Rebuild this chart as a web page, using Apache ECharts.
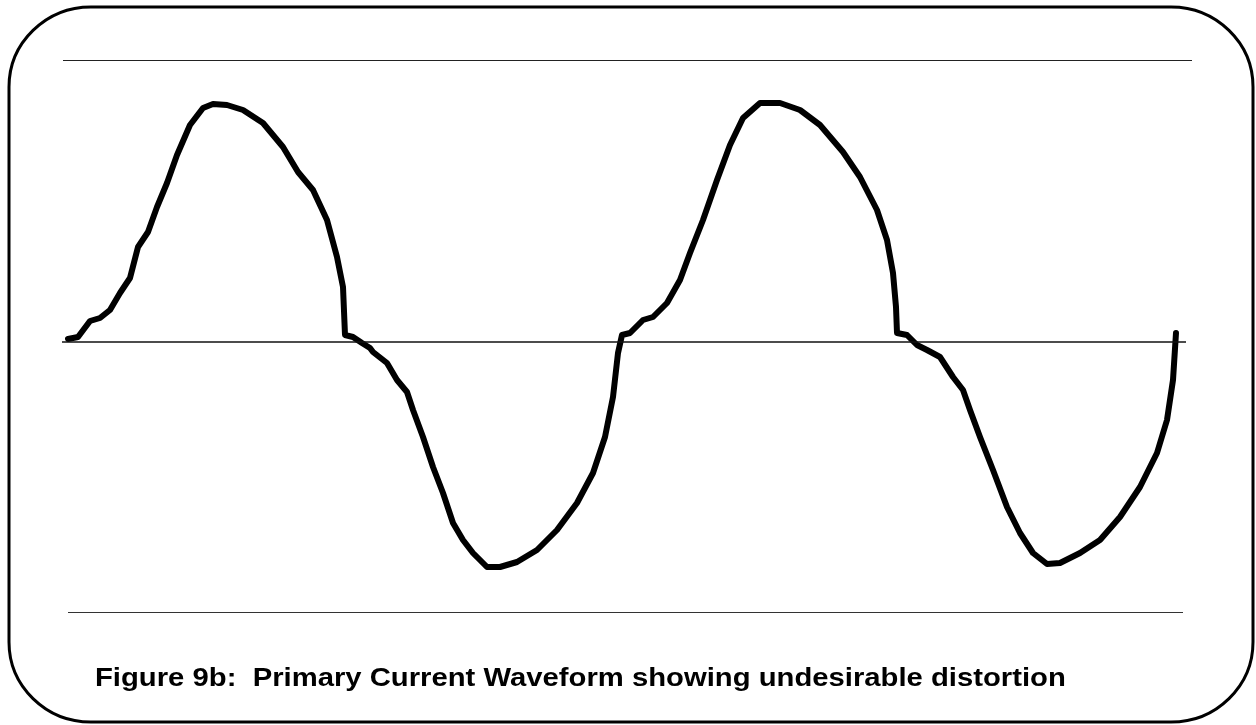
<!DOCTYPE html>
<html>
<head>
<meta charset="utf-8">
<script src="https://cdn.jsdelivr.net/npm/echarts@6/dist/echarts.min.js"></script>
<style>html,body{margin:0;padding:0;background:#fff;}#chart{width:1256px;height:725px;}</style>
</head>
<body>
<div id="chart"></div>
<script>
// Time (arbitrary units) and current (arbitrary units, 0 = zero line)
const timeValues = [
  6, 8, 16, 28, 38, 48, 58, 68, 76, 86, 95, 105, 115, 128, 141, 151, 165, 181, 201, 221, 236, 251, 265, 275, 281, 283, 291, 300, 308,
  311, 325, 335, 345, 351, 361, 371, 381, 391, 401, 411, 425, 438, 455, 475, 495, 515, 531, 543, 551, 556, 560, 568, 581,
  591, 605, 618, 628, 641, 655, 668, 681, 698, 718, 738, 758, 781, 798, 815, 825, 831, 834, 835, 845, 855, 865,
  878, 891, 901, 908, 918, 931, 945, 958, 971, 985, 998, 1018, 1038, 1058, 1078, 1095, 1105, 1111, 1114
];
const currentValues = [
  3, 4, 5, 21, 24, 32, 49, 64, 95, 110, 135, 159, 187, 217, 234, 238, 237, 232, 219, 195, 170, 152, 122, 85, 55, 7, 5, -1, -6,
  -10, -21, -38, -50, -68, -95, -125, -151, -181, -198, -211, -225, -225, -220, -208, -188, -161, -131, -95, -55, -11, 7, 9, 22,
  25, 39, 62, 89, 122, 162, 197, 224, 239, 239, 232, 217, 190, 165, 132, 102, 69, 35, 9, 7, -3, -8,
  -15, -35, -48, -68, -95, -128, -165, -191, -211, -222, -221, -211, -198, -175, -145, -111, -78, -38, 9
];
const pairs = timeValues.map((t, i) => [t, currentValues[i]]);

// reference lines: [value, start, end]
const topLine = [282, 1, 1130];
const zeroLine = [0, 0, 1124];
const bottomLine = [-270, 6, 1121];
const caption = 'Figure 9b:  Primary Current Waveform showing undesirable distortion';

const chart = echarts.init(document.getElementById('chart'));
function hline(l, w, c) {
  return [{ coord: [l[1], l[0]], lineStyle: { width: w, color: c, type: 'solid' } }, { coord: [l[2], l[0]] }];
}
// frame with rounded corners
const L = 9, R = 1253, T = 7, B = 722, rx = 82, ry = 80, k = 0.5523;
const fs = { stroke: '#000', lineWidth: 3, fill: 'none' };
const frame = [
  { type: 'line', shape: { x1: L + rx, y1: T, x2: R - rx, y2: T }, style: fs },
  { type: 'line', shape: { x1: L + rx, y1: B, x2: R - rx, y2: B }, style: fs },
  { type: 'line', shape: { x1: L, y1: T + ry, x2: L, y2: B - ry }, style: fs },
  { type: 'line', shape: { x1: R, y1: T + ry, x2: R, y2: B - ry }, style: fs },
  { type: 'bezierCurve', shape: { x1: L, y1: T + ry, cpx1: L, cpy1: T + ry - k * ry, cpx2: L + rx - k * rx, cpy2: T, x2: L + rx, y2: T }, style: fs },
  { type: 'bezierCurve', shape: { x1: R - rx, y1: T, cpx1: R - rx + k * rx, cpy1: T, cpx2: R, cpy2: T + ry - k * ry, x2: R, y2: T + ry }, style: fs },
  { type: 'bezierCurve', shape: { x1: R, y1: B - ry, cpx1: R, cpy1: B - ry + k * ry, cpx2: R - rx + k * rx, cpy2: B, x2: R - rx, y2: B }, style: fs },
  { type: 'bezierCurve', shape: { x1: L + rx, y1: B, cpx1: L + rx - k * rx, cpy1: B, cpx2: L, cpy2: B - ry + k * ry, x2: L, y2: B - ry }, style: fs }
].map(g => Object.assign(g, { z: 10, silent: true }));

chart.setOption({
  animation: false,
  backgroundColor: '#ffffff',
  grid: { left: 62, right: 64, top: 60, bottom: 113, containLabel: false },
  xAxis: { type: 'value', min: 0, max: 1130, show: false },
  yAxis: { type: 'value', min: -270, max: 282, show: false },
  graphic: frame.concat([
    {
      type: 'text', x: 95, y: 666, scaleX: 1.125, z: 10, silent: true,
      style: { text: caption, font: 'bold 26px "Liberation Sans", Arial, sans-serif', fill: '#000', textVerticalAlign: 'top' }
    }
  ]),
  series: [{
    type: 'line',
    data: pairs,
    showSymbol: false,
    smooth: false,
    lineStyle: { color: '#000', width: 6, join: 'round', cap: 'round' },
    markLine: {
      silent: true, symbol: 'none', label: { show: false },
      data: [hline(topLine, 1.2, '#222'), hline(zeroLine, 1.5, '#111'), hline(bottomLine, 1.2, '#333')]
    }
  }]
});
</script>
</body>
</html>
